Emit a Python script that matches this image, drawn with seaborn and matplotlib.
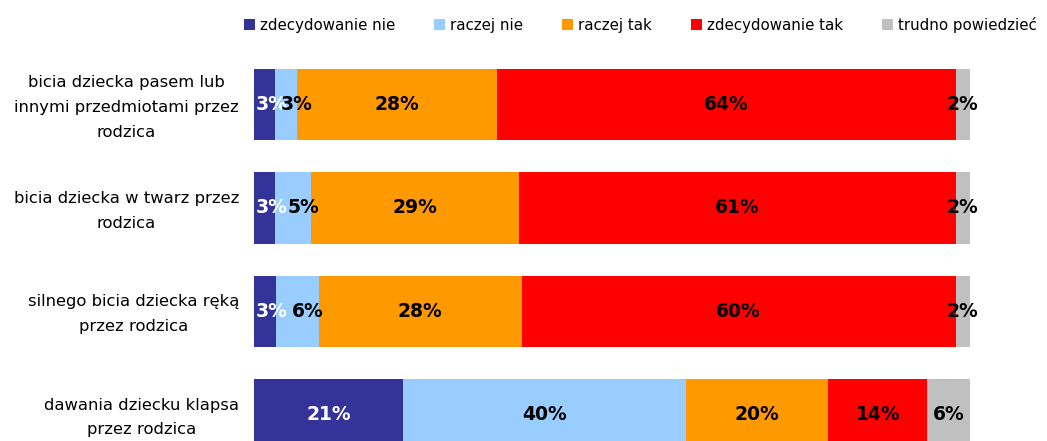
import numpy as np
import pandas as pd
import matplotlib
matplotlib.use("Agg")
import matplotlib.pyplot as plt
import matplotlib.transforms as mtransforms
from matplotlib.patches import Patch
import seaborn as sns

categories = [
    "bicia dziecka pasem lub\ninnymi przedmiotami przez\nrodzica",
    "bicia dziecka w twarz przez\nrodzica",
    "silnego bicia dziecka ręką\nprzez rodzica",
    "dawania dziecku klapsa\nprzez rodzica",
]
series_names = ["zdecydowanie nie", "raczej nie", "raczej tak", "zdecydowanie tak", "trudno powiedzieć"]
zdecydowanie_nie = [3, 3, 3, 21]
raczej_nie = [3, 5, 6, 40]
raczej_tak = [28, 29, 28, 20]
zdecydowanie_tak = [64, 61, 60, 14]
trudno_powiedziec = [2, 2, 2, 6]
colors = ["#333399", "#99CCFF", "#FF9900", "#FF0000", "#C0C0C0"]
label_colors = ["white", "black", "black", "black", "black"]

sns.set_style("white")
plt.rcParams["font.family"] = ["DejaVu Sans"]

values = np.array([zdecydowanie_nie, raczej_nie, raczej_tak, zdecydowanie_tak, trudno_powiedziec], dtype=float)
totals = values.sum(axis=0)
shares = values / totals * 100.0

fig = plt.figure(figsize=(10.47, 4.41), dpi=100)
ax = fig.add_axes([254 / 1047, -0.057, 716 / 1047, 0.937])

left = np.zeros(len(categories))
for i, name in enumerate(series_names):
    df = pd.DataFrame({"cat": categories, "val": shares[i]})
    sns.barplot(data=df, x="val", y="cat", orient="h", left=left, color=colors[i],
                width=0.69, ax=ax, saturation=1, linewidth=0, order=categories)
    for j in range(len(categories)):
        cx = left[j] + shares[i][j] / 2
        # small labels in narrow segments sit slightly to the right, as in the original
        dx = 0
        if shares[i][j] < 8 and i < len(series_names) - 1:
            dx = 7 if i == 0 else 10
        tr = mtransforms.offset_copy(ax.transData, fig=fig, x=dx, y=0, units="dots")
        ax.text(cx, j, f"{int(values[i][j])}%", ha="center", va="center", transform=tr,
                fontsize=13.5, fontweight="bold", color=label_colors[i])
    left = left + shares[i]

ax.set_xlim(0, 100)
ax.set_ylim(3.5, -0.5)
ax.set_xlabel("")
ax.set_ylabel("")
ax.set_xticks([])
ax.set_yticks(range(len(categories)))
ax.set_yticklabels([""] * len(categories))
for s in ax.spines.values():
    s.set_visible(False)
ax.tick_params(axis="y", length=0)

lab_tr = mtransforms.offset_copy(ax.get_yaxis_transform(), fig=fig, x=-15, y=-3, units="dots")
for j, cat in enumerate(categories):
    ax.text(0, j, cat, transform=lab_tr, ha="right", va="center", multialignment="center",
            fontsize=11.8, linespacing=1.8, color="black")

handles = [Patch(facecolor=c, edgecolor="none") for c in colors]
leg = fig.legend(handles, series_names, loc="center", bbox_to_anchor=(640 / 1047, 1 - 25 / 441),
                 ncol=5, frameon=False, fontsize=10.8, handlelength=0.77, handleheight=0.77,
                 handletextpad=0.3, columnspacing=2.6, borderaxespad=0, borderpad=0)
for t in leg.get_texts():
    t.set_color("black")

fig.savefig("out.png", dpi=100)
